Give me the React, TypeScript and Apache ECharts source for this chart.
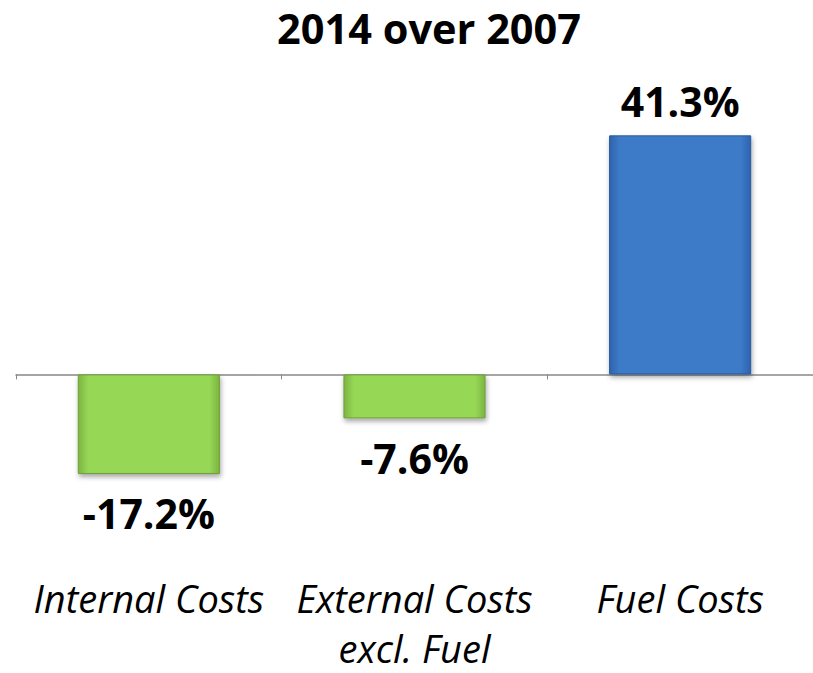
import React, { useEffect, useRef } from "react";
import * as echarts from "echarts";

const title = "2014 over 2007";
const categories = ["Internal Costs", "External Costs\nexcl. Fuel", "Fuel Costs"];
const values = [-17.2, -7.6, 41.3];

const FONT = "'Open Sans', 'Noto Sans', sans-serif";

function barStyle(v: number) {
  const neg = v < 0;
  const edge = neg ? "#7DB441" : "#2F63AE";
  const mid = neg ? "#96D756" : "#3C7AC8";
  return {
    color: new echarts.graphic.LinearGradient(0, 0, 1, 0, [
      { offset: 0, color: edge },
      { offset: 0.07, color: mid },
      { offset: 0.93, color: mid },
      { offset: 1, color: edge },
    ]),
    borderColor: neg ? "#6F9F3A" : "#2A5A9C",
    borderWidth: 1,
    shadowColor: "rgba(0,0,0,0.35)",
    shadowBlur: 5,
    shadowOffsetY: 3,
    shadowOffsetX: 1,
  };
}

export default function App() {
  const ref = useRef<HTMLDivElement>(null);
  useEffect(() => {
    if (!ref.current) return;
    const chart = echarts.init(ref.current, null, { renderer: "svg" });
    const data = values.map((v) => ({
      value: v,
      itemStyle: barStyle(v),
      label: {
        show: true,
        position: v < 0 ? "bottom" : "top",
        distance: v < 0 ? 19 : 14,
      },
    }));
    chart.setOption({
      animation: false,
      backgroundColor: "#ffffff",
      title: {
        text: title,
        left: 272,
        top: 2,
        textStyle: {
          fontFamily: FONT,
          fontWeight: "bold",
          fontSize: 41.5,
          color: "#000",
        },
      },
      grid: { left: 16, width: 801, top: 85, bottom: 95 },
      xAxis: [
        {
          type: "category",
          data: categories,
          axisLine: { show: true, onZero: true, lineStyle: { color: "#888", width: 1.5 } },
          axisTick: { show: true, length: 5, lineStyle: { color: "#888" } },
          axisLabel: { show: false },
        },
        {
          type: "category",
          data: categories,
          position: "bottom",
          axisLine: { show: false, onZero: false },
          axisTick: { show: false },
          axisLabel: {
            show: true,
            margin: -4,
            verticalAlign: "top",
            fontFamily: FONT,
            fontStyle: "italic",
            fontSize: 38,
            lineHeight: 50,
            color: "#000",
            interval: 0,
          },
        },
      ],
      yAxis: {
        type: "value",
        min: -35,
        max: 50,
        show: false,
        splitLine: { show: false },
      },
      series: [
        {
          type: "bar",
          xAxisIndex: 0,
          data,
          barWidth: "53.5%",
          label: {
            show: true,
            formatter: (p: any) => p.value.toFixed(1) + "%",
            fontFamily: FONT,
            fontWeight: "bold",
            fontSize: 41,
            color: "#000",
          },
        },
      ],
    });
    return () => chart.dispose();
  }, []);
  return (
    <div
      ref={ref}
      style={{ position: "absolute", left: 0, top: 0, width: 813, height: 673 }}
    />
  );
}
